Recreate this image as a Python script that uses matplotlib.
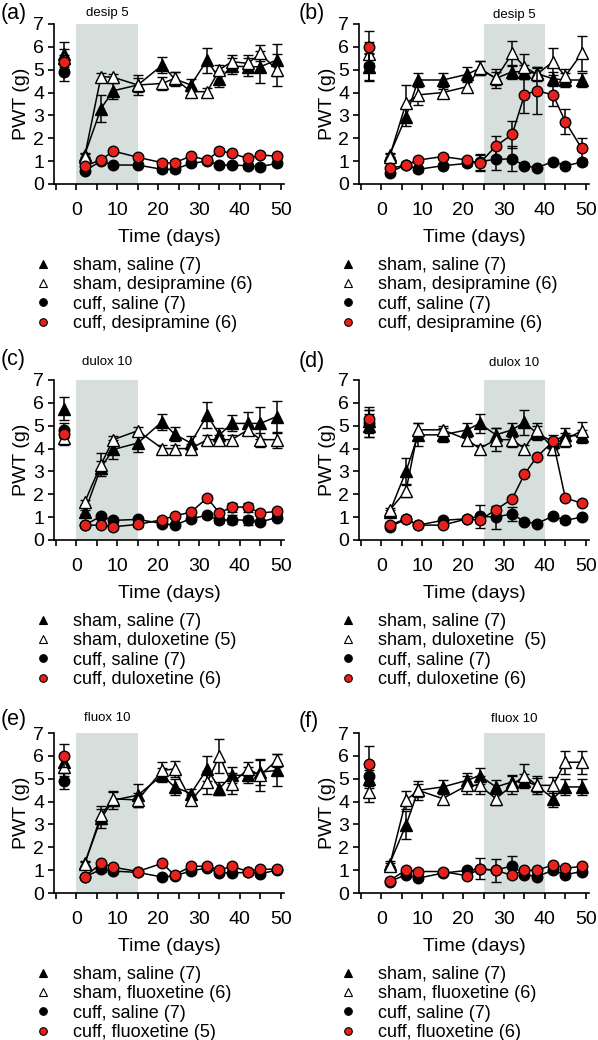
import matplotlib
matplotlib.use("Agg")
import matplotlib.pyplot as plt
from matplotlib.lines import Line2D
from matplotlib.ticker import MultipleLocator

plt.rcParams["font.family"] = ["Liberation Sans", "DejaVu Sans"]

# %% data (baseline first, then post-surgery days)
days = [-3, 2, 6, 9, 15, 21, 24, 28, 32, 35, 38, 42, 45, 49]

# (a) desipramine, early treatment
a_sham_sal = [5.7, 1.27, 3.3, 4.08, 4.33, 5.2, 4.6, 4.33, 5.42, 4.58, 5.16, 5.13, 5.13, 5.42]
a_sham_sal_err = [0.5, 0.1, 0.6, 0.35, 0.3, 0.35, 0.3, 0.25, 0.55, 0.35, 0.35, 0.4, 0.7, 0.7]
a_sham_drug = [5.5, 1.2, 4.7, 4.67, 4.33, 4.4, 4.62, 4.04, 4.04, 5.0, 5.35, 5.28, 5.71, 5.0]
a_sham_drug_err = [0.4, 0.1, 0.15, 0.15, 0.45, 0.3, 0.3, 0.15, 0.15, 0.2, 0.3, 0.35, 0.35, 0.7]
a_cuff_sal = [4.9, 0.58, 1.0, 0.83, 0.83, 0.64, 0.64, 0.9, 1.0, 0.83, 0.83, 0.8, 0.76, 0.9]
a_cuff_sal_err = [0.4, 0.1, 0.1, 0.1, 0.1, 0.1, 0.1, 0.1, 0.1, 0.1, 0.1, 0.1, 0.1, 0.1]
a_cuff_drug = [5.35, 0.79, 1.05, 1.44, 1.17, 0.93, 0.93, 1.22, 1.05, 1.46, 1.34, 1.12, 1.27, 1.22]
a_cuff_drug_err = [0.3, 0.1, 0.1, 0.1, 0.1, 0.1, 0.1, 0.1, 0.1, 0.1, 0.1, 0.1, 0.1, 0.1]

# (b) desipramine, late treatment
b_sham_sal = [5.1, 1.27, 2.94, 4.55, 4.55, 4.8, 5.06, 4.62, 4.91, 4.91, 4.84, 4.6, 4.55, 4.55]
b_sham_sal_err = [0.6, 0.1, 0.4, 0.3, 0.3, 0.3, 0.3, 0.3, 0.3, 0.3, 0.3, 0.3, 0.3, 0.3]
b_sham_drug = [5.7, 1.2, 3.53, 3.9, 4.0, 4.26, 5.06, 4.62, 5.71, 5.13, 4.8, 5.35, 4.72, 5.71]
b_sham_drug_err = [0.5, 0.1, 0.8, 0.45, 0.15, 0.2, 0.3, 0.4, 0.55, 0.55, 0.3, 0.6, 0.3, 0.75]
b_cuff_sal = [5.15, 0.5, 0.85, 0.64, 0.8, 0.9, 0.98, 1.08, 1.1, 0.8, 0.71, 0.98, 0.8, 0.95]
b_cuff_sal_err = [0.6, 0.1, 0.1, 0.1, 0.1, 0.1, 0.35, 0.45, 0.55, 0.1, 0.1, 0.1, 0.1, 0.1]
b_cuff_drug = [6.0, 0.69, 0.82, 1.05, 1.2, 1.05, 0.9, 1.66, 2.17, 3.9, 4.08, 3.9, 2.73, 1.56]
b_cuff_drug_err = [0.7, 0.1, 0.1, 0.1, 0.1, 0.1, 0.35, 0.45, 0.6, 0.8, 1.0, 0.5, 0.55, 0.45]

# (c) duloxetine, early treatment
c_sham_sal = [5.75, 1.22, 3.17, 3.96, 4.24, 5.18, 4.63, 4.24, 5.47, 4.6, 5.1, 5.1, 5.1, 5.4]
c_sham_sal_err = [0.5, 0.1, 0.3, 0.4, 0.4, 0.35, 0.3, 0.3, 0.55, 0.3, 0.35, 0.5, 0.7, 0.7]
c_sham_drug = [4.46, 1.65, 3.3, 4.39, 4.78, 4.0, 4.0, 4.0, 4.39, 4.39, 4.39, 4.82, 4.39, 4.39]
c_sham_drug_err = [0.3, 0.1, 0.5, 0.15, 0.15, 0.15, 0.15, 0.2, 0.2, 0.2, 0.2, 0.2, 0.3, 0.35]
c_cuff_sal = [4.82, 0.65, 1.04, 0.86, 0.9, 0.72, 0.65, 0.93, 1.08, 0.86, 0.89, 0.86, 0.79, 0.98]
c_cuff_sal_err = [0.3, 0.1, 0.1, 0.1, 0.1, 0.1, 0.1, 0.1, 0.1, 0.1, 0.2, 0.2, 0.1, 0.1]
c_cuff_drug = [4.65, 0.65, 0.65, 0.58, 0.68, 0.89, 1.05, 1.22, 1.84, 1.18, 1.44, 1.44, 1.18, 1.25]
c_cuff_drug_err = [0.2, 0.1, 0.1, 0.1, 0.1, 0.1, 0.1, 0.1, 0.1, 0.1, 0.2, 0.2, 0.1, 0.1]

# (d) duloxetine, late treatment
d_sham_sal = [5.0, 1.22, 3.0, 4.6, 4.6, 4.82, 5.1, 4.6, 4.82, 5.15, 4.67, 4.3, 4.6, 4.53]
d_sham_sal_err = [0.5, 0.1, 0.6, 0.5, 0.3, 0.3, 0.4, 0.3, 0.3, 0.55, 0.3, 0.3, 0.3, 0.3]
d_sham_drug = [5.2, 1.3, 2.16, 4.82, 4.82, 4.39, 4.0, 4.39, 4.39, 4.0, 4.82, 4.0, 4.39, 4.78]
d_sham_drug_err = [0.5, 0.1, 0.3, 0.3, 0.15, 0.15, 0.15, 0.5, 0.3, 0.15, 0.3, 0.3, 0.3, 0.4]
d_cuff_sal = [5.1, 0.58, 0.9, 0.65, 0.86, 0.93, 1.04, 1.0, 1.15, 0.79, 0.72, 1.04, 0.86, 1.0]
d_cuff_sal_err = [0.6, 0.1, 0.1, 0.1, 0.1, 0.1, 0.5, 0.5, 0.3, 0.1, 0.1, 0.1, 0.1, 0.1]
d_cuff_drug = [5.3, 0.65, 0.93, 0.65, 0.65, 0.93, 0.86, 1.32, 1.8, 2.88, 3.63, 4.32, 1.84, 1.61]
d_cuff_drug_err = [0.5, 0.1, 0.1, 0.1, 0.1, 0.1, 0.1, 0.1, 0.1, 0.1, 0.1, 0.1, 0.1, 0.1]

# (e) fluoxetine, early treatment
e_sham_sal = [5.72, 1.3, 3.26, 4.06, 4.28, 5.15, 4.64, 4.35, 5.43, 4.57, 5.15, 5.15, 5.29, 5.36]
e_sham_sal_err = [0.4, 0.1, 0.4, 0.4, 0.5, 0.3, 0.35, 0.2, 0.55, 0.3, 0.35, 0.35, 0.55, 0.7]
e_sham_drug = [5.5, 1.25, 3.4, 4.12, 4.07, 5.36, 5.43, 4.07, 4.84, 6.0, 4.78, 5.43, 5.15, 5.8]
e_sham_drug_err = [0.4, 0.1, 0.4, 0.3, 0.3, 0.35, 0.35, 0.2, 0.5, 0.75, 0.45, 0.3, 0.7, 0.3]
e_cuff_sal = [4.9, 0.7, 1.03, 0.96, 0.9, 0.7, 0.75, 0.96, 1.1, 0.88, 0.88, 0.9, 0.84, 1.0]
e_cuff_sal_err = [0.35, 0.1, 0.1, 0.1, 0.1, 0.1, 0.1, 0.1, 0.1, 0.1, 0.1, 0.1, 0.1, 0.1]
e_cuff_drug = [6.0, 0.7, 1.3, 1.13, 0.94, 1.3, 0.78, 1.17, 1.17, 1.0, 1.17, 0.94, 1.04, 1.04]
e_cuff_drug_err = [0.5, 0.1, 0.1, 0.1, 0.1, 0.1, 0.1, 0.1, 0.1, 0.1, 0.1, 0.1, 0.1, 0.1]

# (f) fluoxetine, late treatment
f_sham_sal = [5.0, 1.28, 2.97, 4.49, 4.64, 4.93, 5.14, 4.64, 4.86, 4.9, 4.71, 4.13, 4.64, 4.64]
f_sham_sal_err = [0.4, 0.1, 0.6, 0.3, 0.3, 0.3, 0.35, 0.3, 0.3, 0.3, 0.3, 0.35, 0.35, 0.35]
f_sham_drug = [4.4, 1.2, 4.06, 4.49, 4.13, 4.71, 4.71, 4.13, 4.71, 5.14, 4.71, 4.71, 5.72, 5.72]
f_sham_drug_err = [0.4, 0.1, 0.4, 0.4, 0.2, 0.4, 0.4, 0.3, 0.4, 0.5, 0.4, 0.35, 0.5, 0.5]
f_cuff_sal = [5.1, 0.5, 0.8, 0.65, 0.87, 0.99, 1.05, 1.0, 1.19, 0.8, 0.72, 0.99, 0.8, 0.94]
f_cuff_sal_err = [0.4, 0.1, 0.1, 0.1, 0.1, 0.1, 0.1, 0.1, 0.45, 0.1, 0.1, 0.1, 0.1, 0.1]
f_cuff_drug = [5.65, 0.54, 1.01, 0.94, 0.94, 0.75, 1.06, 0.99, 0.77, 0.99, 0.99, 1.23, 1.09, 1.16]
f_cuff_drug_err = [0.8, 0.1, 0.1, 0.1, 0.1, 0.1, 0.45, 0.5, 0.1, 0.1, 0.1, 0.1, 0.1, 0.1]

drug_tags = ["desip 5", "desip 5", "dulox 10", "dulox 10", "fluox 10", "fluox 10"]
windows = [(0, 15), (25, 40), (0, 15), (25, 40), (0, 15), (25, 40)]
legend_labels = [
    ["sham, saline (7)", "sham, desipramine (6)", "cuff, saline (7)", "cuff, desipramine (6)"],
    ["sham, saline (7)", "sham, desipramine (6)", "cuff, saline (7)", "cuff, desipramine (6)"],
    ["sham, saline (7)", "sham, duloxetine (5)", "cuff, saline (7)", "cuff, duloxetine (6)"],
    ["sham, saline (7)", "sham, duloxetine  (5)", "cuff, saline (7)", "cuff, duloxetine (6)"],
    ["sham, saline (7)", "sham, fluoxetine (6)", "cuff, saline (7)", "cuff, fluoxetine (5)"],
    ["sham, saline (7)", "sham, fluoxetine (6)", "cuff, saline (7)", "cuff, fluoxetine (6)"],
]

panel_data = [
    [(a_sham_sal, a_sham_sal_err), (a_sham_drug, a_sham_drug_err), (a_cuff_sal, a_cuff_sal_err), (a_cuff_drug, a_cuff_drug_err)],
    [(b_sham_sal, b_sham_sal_err), (b_sham_drug, b_sham_drug_err), (b_cuff_sal, b_cuff_sal_err), (b_cuff_drug, b_cuff_drug_err)],
    [(c_sham_sal, c_sham_sal_err), (c_sham_drug, c_sham_drug_err), (c_cuff_sal, c_cuff_sal_err), (c_cuff_drug, c_cuff_drug_err)],
    [(d_sham_sal, d_sham_sal_err), (d_sham_drug, d_sham_drug_err), (d_cuff_sal, d_cuff_sal_err), (d_cuff_drug, d_cuff_drug_err)],
    [(e_sham_sal, e_sham_sal_err), (e_sham_drug, e_sham_drug_err), (e_cuff_sal, e_cuff_sal_err), (e_cuff_drug, e_cuff_drug_err)],
    [(f_sham_sal, f_sham_sal_err), (f_sham_drug, f_sham_drug_err), (f_cuff_sal, f_cuff_sal_err), (f_cuff_drug, f_cuff_drug_err)],
]

# %% style
RED = "#e8211d"
SHADE = "#d6dfdc"
styles = [
    dict(marker="^", mfc="black", mec="black", ms=8.0),
    dict(marker="^", mfc="white", mec="black", ms=8.0),
    dict(marker="o", mfc="black", mec="black", ms=7.6),
    dict(marker="o", mfc=RED, mec="black", ms=7.6),
]

W, H = 598, 1040
fig = plt.figure(figsize=(W / 100, H / 100), dpi=100)

col_left = [54, 359]
row_top = [24, 380, 733]
ax_w, ax_h = 230, 160
tags = ["(a)", "(b)", "(c)", "(d)", "(e)", "(f)"]
tag_y = [14, 14, 360, 362, 720, 722]
drug_y = [13, 15, 362, 363, 718, 719]

for i in range(6):
    r, c = divmod(i, 2)
    left, top = col_left[c], row_top[r]
    ax = fig.add_axes([left / W, 1 - (top + ax_h) / H, ax_w / W, ax_h / H])

    lo, hi = windows[i]
    ax.axvspan(lo, hi, color=SHADE, lw=0, zorder=0)

    for k, ((vals, errs), st) in enumerate(zip(panel_data[i], styles)):
        common = dict(color="black", mew=1.0, capsize=3.5, elinewidth=1.1,
                      capthick=1.1, zorder=3 + k, clip_on=False, **st)
        ax.errorbar(days[:1], vals[:1], yerr=errs[:1], ls="none", **common)
        ax.errorbar(days[1:], vals[1:], yerr=errs[1:], ls="-", lw=1.1, **common)

    ax.set_xlim(-5.5, 50.8)
    ax.set_ylim(0, 7)
    ax.xaxis.set_major_locator(MultipleLocator(10))
    ax.xaxis.set_minor_locator(MultipleLocator(5))
    ax.yaxis.set_major_locator(MultipleLocator(1))
    ax.spines[["top", "right"]].set_visible(False)
    ax.spines[["left", "bottom"]].set_linewidth(1.2)
    ax.tick_params(which="both", direction="out", length=4, width=1.2, labelsize=14, pad=3)
    ax.tick_params(axis="x", which="both", pad=9)
    ax.set_ylabel("PWT (g)", fontsize=14, labelpad=2)
    ax.set_xlabel("Time (days)", fontsize=14, labelpad=7)

    fig.text(1 / W + c * 298 / W, 1 - tag_y[i] / H, tags[i], fontsize=15.5, va="center", ha="left")
    xc = left + ax_w * ((lo + hi) / 2 + 5.5) / 56.3
    fig.text(xc / W, 1 - drug_y[i] / H, drug_tags[i], fontsize=9.5, va="center", ha="center")

    handles = [Line2D([], [], ls="none", color="black", mew=0.8, **st) for st in styles]
    ax.legend(handles, legend_labels[i], loc="upper left", frameon=False, fontsize=13,
              bbox_to_anchor=((left - 20) / W, 1 - (top + ax_h + 73) / H),
              bbox_transform=fig.transFigure, borderpad=0, borderaxespad=0,
              handlelength=1.0, handletextpad=1.15, labelspacing=0.13, markerscale=0.72)

fig.savefig("out.png", dpi=100)
